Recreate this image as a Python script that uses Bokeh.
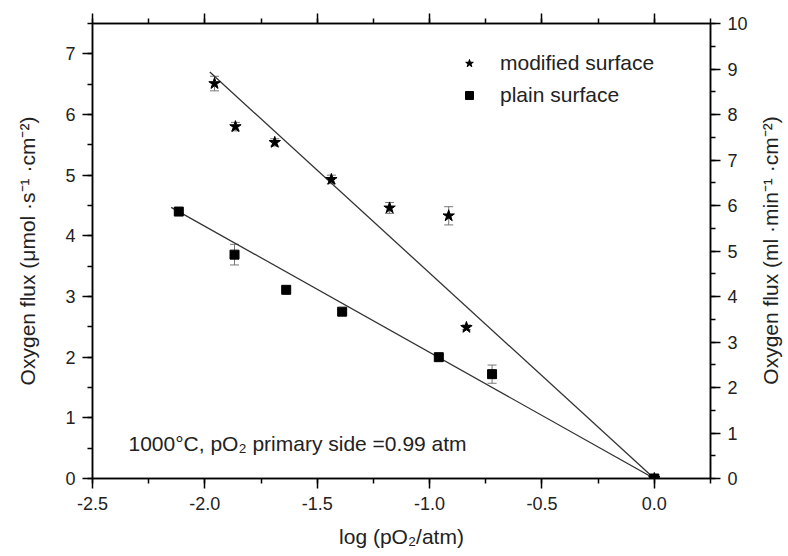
import math
from bokeh.plotting import figure
from bokeh.models import (Range1d, LinearAxis, SingleIntervalTicker, PrintfTickFormatter,
                          ColumnDataSource, Whisker, Legend, LegendItem, Label, TeeHead,
                          CustomJSTickFormatter)
from bokeh.embed import file_html
from bokeh.resources import INLINE

# ---- data ----
mod_x = [-1.957, -1.864, -1.689, -1.437, -1.178, -0.915, -0.836, 0.0]
mod_y = [6.51, 5.80, 5.54, 4.93, 4.46, 4.33, 2.49, 0.0]
mod_err = [0.12, 0.07, 0.06, 0.07, 0.09, 0.15, 0.04, 0.0]

plain_x = [-2.116, -1.868, -1.638, -1.389, -0.959, -0.722, 0.0]
plain_y = [4.40, 3.69, 3.11, 2.75, 2.00, 1.72, 0.0]
plain_err = [0.03, 0.17, 0.02, 0.03, 0.02, 0.15, 0.0]

fit_mod_x = [-1.978, 0.0]
fit_mod_y = [6.70, 0.0]
fit_plain_x = [-2.150, 0.0]
fit_plain_y = [4.47, 0.0]

x_start, x_end = -2.5, 0.25
y_start, y_end = 0.0, 7.5
y2_start, y2_end = 0.0, 10.0

FONT = "Liberation Sans"
TICK_FS = "18px"
LABEL_FS = "21px"
TEXT_COLOR = "#222222"

p = figure(width=788, height=556, output_backend="svg", toolbar_location=None,
           x_range=Range1d(x_start, x_end), y_range=Range1d(y_start, y_end),
           min_border_left=92, min_border_right=78, min_border_top=23, min_border_bottom=78)
p.extra_y_ranges = {"right": Range1d(y2_start, y2_end)}
p.xgrid.visible = False
p.ygrid.visible = False
p.outline_line_color = "black"
p.outline_line_width = 1.5
p.background_fill_color = "white"
p.border_fill_color = "white"


def style_axis(ax):
    ax.axis_line_width = 1.5
    ax.axis_line_color = "black"
    ax.major_tick_line_width = 1.5
    ax.minor_tick_line_width = 1.5
    ax.major_tick_out = 10
    ax.major_tick_in = 0
    ax.minor_tick_out = 5
    ax.minor_tick_in = 0
    ax.major_label_text_font = FONT
    ax.major_label_text_font_size = TICK_FS
    ax.major_label_text_color = TEXT_COLOR
    ax.axis_label_text_font = FONT
    ax.axis_label_text_font_size = LABEL_FS
    ax.axis_label_text_font_style = "normal"
    ax.axis_label_text_color = TEXT_COLOR


# bottom axis
xa = p.xaxis[0]
xa.ticker = SingleIntervalTicker(interval=0.5, num_minor_ticks=2)
xa.formatter = PrintfTickFormatter(format="%.1f")
xa.axis_label = "log (pO₂/atm)"
style_axis(xa)
xa.major_label_standoff = 8
xa.axis_label_standoff = 12

# left axis
ya = p.yaxis[0]
ya.ticker = SingleIntervalTicker(interval=1, num_minor_ticks=2)
ya.axis_label = "Oxygen flux (μmol ·s⁻¹ ·cm⁻²)"
style_axis(ya)
ya.major_label_standoff = 7
ya.axis_label_standoff = 23

# top axis (ticks only)
top = LinearAxis(ticker=SingleIntervalTicker(interval=0.5, num_minor_ticks=2),
                 formatter=CustomJSTickFormatter(code="return ''"))
style_axis(top)
top.major_label_text_font_size = "0px"
top.major_label_standoff = 0
p.add_layout(top, "above")

# right axis (label drawn separately so it reads bottom-to-top)
ra = LinearAxis(y_range_name="right",
                ticker=SingleIntervalTicker(interval=1, num_minor_ticks=2))
style_axis(ra)
ra.major_label_standoff = 7
p.add_layout(ra, "right")

right_label = Label(x=20, y=228, x_units="screen", y_units="screen",
                    text="Oxygen flux (ml ·min⁻¹ ·cm⁻²)", angle=math.pi / 2,
                    text_font=FONT, text_font_size=LABEL_FS, text_color=TEXT_COLOR,
                    text_align="center", text_baseline="middle")
p.add_layout(right_label, "right")

# fit lines
p.line(fit_mod_x, fit_mod_y, line_color="#333333", line_width=1.3)
p.line(fit_plain_x, fit_plain_y, line_color="#333333", line_width=1.3)

# error bars
src_mod = ColumnDataSource(dict(x=mod_x, y=mod_y,
                                lo=[a - b for a, b in zip(mod_y, mod_err)],
                                hi=[a + b for a, b in zip(mod_y, mod_err)]))
src_plain = ColumnDataSource(dict(x=plain_x, y=plain_y,
                                  lo=[a - b for a, b in zip(plain_y, plain_err)],
                                  hi=[a + b for a, b in zip(plain_y, plain_err)]))
for src in (src_mod, src_plain):
    w = Whisker(source=src, base="x", lower="lo", upper="hi", line_color="#777777",
                line_width=1,
                upper_head=TeeHead(size=9, line_color="#777777", line_width=1),
                lower_head=TeeHead(size=9, line_color="#777777", line_width=1))
    p.add_layout(w)

r_mod = p.scatter("x", "y", source=src_mod, marker="star", size=12,
                  fill_color="black", line_color="black")
r_plain = p.scatter("x", "y", source=src_plain, marker="square", size=9,
                    fill_color="black", line_color="black")

legend = Legend(items=[LegendItem(label="modified surface", renderers=[r_mod]),
                       LegendItem(label="plain surface", renderers=[r_plain])],
                location=(367, 371), padding=0, margin=0, spacing=8,
                glyph_width=20, glyph_height=20, label_height=20, label_standoff=21,
                border_line_color=None, background_fill_alpha=0,
                label_text_font=FONT, label_text_font_size=LABEL_FS,
                label_text_color=TEXT_COLOR)
p.add_layout(legend, "center")

note = Label(x=-2.34, y=0.57, text="1000°C, pO₂ primary side =0.99 atm",
             text_font=FONT, text_font_size=LABEL_FS, text_color=TEXT_COLOR,
             text_baseline="middle", text_align="left")
p.add_layout(note)

open("out.html", "w").write(file_html(p, INLINE))
